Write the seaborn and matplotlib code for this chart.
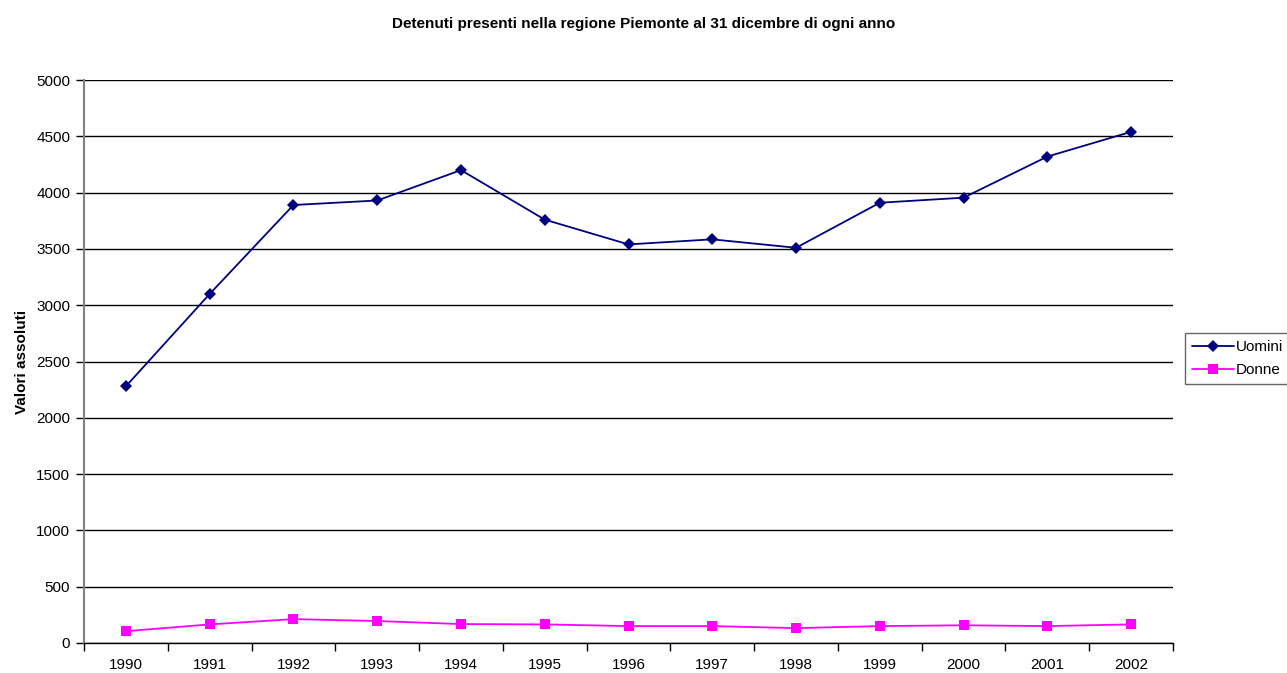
import pandas as pd
import matplotlib.pyplot as plt
import seaborn as sns

# Data
anni = ['1990', '1991', '1992', '1993', '1994', '1995', '1996',
        '1997', '1998', '1999', '2000', '2001', '2002']
uomini = [2280, 3100, 3890, 3930, 4200, 3760, 3540, 3585, 3510, 3910, 3955, 4320, 4540]
donne = [105, 165, 212, 195, 168, 165, 150, 150, 132, 150, 157, 150, 165]

df = pd.DataFrame({
    'anno': anni * 2,
    'valore': uomini + donne,
    'serie': ['Uomini'] * len(anni) + ['Donne'] * len(anni),
})

sns.set_style('white', {'text.color': 'black', 'axes.labelcolor': 'black',
                        'xtick.color': 'black', 'ytick.color': 'black'})
plt.rcParams['font.family'] = ['Liberation Sans', 'DejaVu Sans']

fig = plt.figure(figsize=(12.87, 6.73), dpi=100)
ax = fig.add_axes([0.0653, 0.0446, 0.8461, 0.8365])

sns.lineplot(data=df, x='anno', y='valore', hue='serie', style='serie',
             palette={'Uomini': '#000080', 'Donne': '#FF00FF'},
             markers={'Uomini': 'D', 'Donne': 's'},
             dashes=False, markersize=6.5, markeredgewidth=0,
             linewidth=1.3, ax=ax)

# y axis
ax.set_ylim(0, 5000)
ax.set_yticks(range(0, 5001, 500))
ax.yaxis.grid(True, color='black', linewidth=1)
ax.set_axisbelow(True)
ax.tick_params(axis='y', direction='out', length=6, width=1, color='black',
               labelcolor='black', labelsize=11, left=True, pad=4)

# x axis: category ticks between years, labels centered
ax.set_xlim(-0.5, len(anni) - 0.5)
ax.set_xticks([i - 0.5 for i in range(len(anni) + 1)])
ax.set_xticklabels([])
ax.set_xticks(range(len(anni)), minor=True)
ax.set_xticklabels(anni, minor=True)
ax.tick_params(axis='x', which='major', direction='out', length=6, width=1,
               color='black', bottom=True)
ax.tick_params(axis='x', which='minor', length=0, labelsize=11, pad=11,
               labelcolor='black')

for s in ['top', 'right']:
    ax.spines[s].set_visible(False)
ax.spines['left'].set_color('#808080')
ax.spines['left'].set_linewidth(1.5)
ax.spines['bottom'].set_color('black')
ax.spines['bottom'].set_linewidth(1)

ax.set_xlabel('')
ax.set_ylabel('Valori assoluti', fontsize=11, fontweight='bold', labelpad=5,
              color='black')
fig.suptitle('Detenuti presenti nella regione Piemonte al 31 dicembre di ogni anno',
             fontsize=11, fontweight='bold', y=0.975, color='black')

leg = ax.legend(loc='center left', bbox_to_anchor=(1.0115, 0.505), frameon=True,
                fancybox=False, fontsize=11, handlelength=2.7, handletextpad=0.15,
                borderpad=0.45, labelspacing=0.6, borderaxespad=0)
leg.get_frame().set_edgecolor('#404040')
leg.get_frame().set_linewidth(1)
for t in leg.get_texts():
    t.set_color('black')

fig.savefig('out.png', dpi=100)
